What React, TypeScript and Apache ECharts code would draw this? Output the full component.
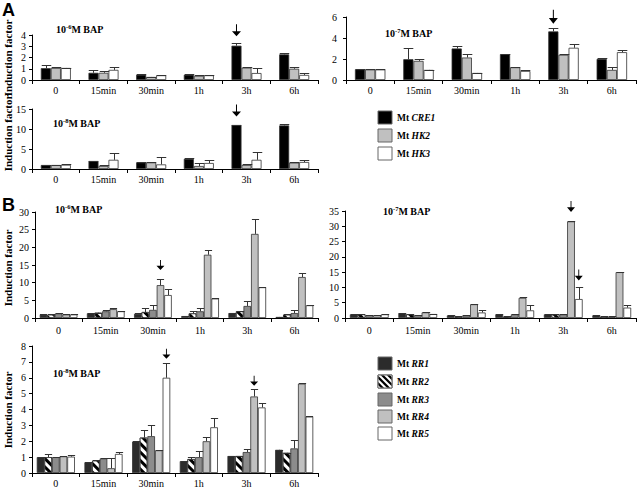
import React, { useEffect, useRef } from 'react';
import * as echarts from 'echarts';

// ---------- data ----------
const timePoints = ['0', '15min', '30min', '1h', '3h', '6h'];

// Panel A, 10^-6 M BAP
const a6CRE1 = [1.05, 0.64, 0.47, 0.47, 3.05, 2.28];
const a6CRE1Err = [0.32, 0.25, 0.05, 0.02, 0.28, 0.08];
const a6HK2 = [1.07, 0.64, 0.27, 0.37, 1.1, 1.0];
const a6HK2Err = [0.07, 0.18, 0.02, 0.06, 0.05, 0.15];
const a6HK3 = [1.07, 0.9, 0.42, 0.42, 0.62, 0.45];
const a6HK3Err = [0.03, 0.23, 0.03, 0.02, 0.48, 0.13];

// Panel A, 10^-7 M BAP
const a7CRE1 = [1.02, 1.98, 3.0, 2.46, 4.63, 2.01];
const a7CRE1Err = [0.05, 1.05, 0.2, 0.03, 0.3, 0.05];
const a7HK2 = [1.0, 1.82, 2.14, 1.21, 2.4, 0.96];
const a7HK2Err = [0.05, 0.2, 0.3, 0.02, 0.06, 0.3];
const a7HK3 = [1.0, 0.96, 0.67, 0.86, 3.07, 2.65];
const a7HK3Err = [0.02, 0.03, 0.02, 0.05, 0.35, 0.2];

// Panel A, 10^-8 M BAP
const a8CRE1 = [1.0, 2.0, 1.65, 2.55, 11.0, 10.9];
const a8CRE1Err = [0.05, 0.05, 0.05, 0.15, 0.05, 0.4];
const a8HK2 = [1.0, 0.75, 1.65, 0.75, 1.0, 1.6];
const a8HK2Err = [0.05, 0.15, 0.05, 0.85, 0.2, 0.15];
const a8HK3 = [1.05, 2.3, 1.15, 1.5, 2.3, 1.75];
const a8HK3Err = [0.2, 1.66, 1.75, 0.8, 2.07, 0.5];

// Panel B, 10^-6 M BAP
const b6RR1 = [0.95, 1.35, 1.2, 0.55, 1.4, 0.3];
const b6RR1Err = [0.05, 0.05, 0.2, 0.05, 0.05, 0.05];
const b6RR2 = [0.95, 1.5, 1.7, 1.3, 1.9, 0.95];
const b6RR2Err = [0.05, 0.05, 1.0, 0.6, 0.05, 0.1];
const b6RR3 = [1.3, 1.9, 2.3, 1.9, 3.4, 1.4];
const b6RR3Err = [0.1, 0.5, 1.5, 0.8, 1.4, 1.0];
const b6RR4 = [1.0, 2.5, 9.3, 17.9, 23.8, 11.6];
const b6RR4Err = [0.1, 0.2, 1.6, 1.3, 4.3, 1.1];
const b6RR5 = [1.0, 1.9, 6.5, 5.5, 8.7, 3.6];
const b6RR5Err = [0.1, 0.1, 1.6, 0.3, 0.2, 0.1];

// Panel B, 10^-7 M BAP
const b7RR1 = [1.2, 1.6, 0.85, 1.2, 1.2, 0.85];
const b7RR1Err = [0.05, 0.05, 0.05, 0.05, 0.05, 0.05];
const b7RR2 = [1.2, 1.2, 0.45, 0.45, 1.2, 0.45];
const b7RR2Err = [0.05, 0.05, 0.05, 0.05, 0.05, 0.05];
const b7RR3 = [0.9, 0.9, 0.85, 1.2, 1.2, 0.45];
const b7RR3Err = [0.05, 0.05, 0.05, 0.05, 0.05, 0.05];
const b7RR4 = [0.9, 1.85, 4.5, 6.6, 31.6, 15.0];
const b7RR4Err = [0.1, 0.1, 0.1, 0.2, 0.2, 0.1];
const b7RR5 = [1.2, 1.3, 1.8, 2.5, 6.2, 3.4];
const b7RR5Err = [0.1, 0.05, 0.8, 1.6, 3.9, 0.7];

// Panel B, 10^-8 M BAP
const b8RR1 = [1.0, 0.67, 1.98, 0.75, 1.07, 1.46];
const b8RR1Err = [0.02, 0.02, 0.02, 0.02, 0.02, 0.02];
const b8RR2 = [1.0, 0.78, 2.23, 0.88, 1.07, 1.27];
const b8RR2Err = [0.18, 0.03, 0.45, 0.1, 0.02, 0.02];
const b8RR3 = [1.0, 0.92, 2.32, 1.0, 1.32, 1.55];
const b8RR3Err = [0.02, 0.02, 0.7, 0.4, 0.2, 0.53];
const b8RR4 = [1.05, 0.3, 1.43, 2.0, 4.82, 5.63];
const b8RR4Err = [0.02, 0.66, 0.02, 0.25, 0.44, 0.02];
const b8RR5 = [1.03, 1.2, 6.0, 2.88, 4.13, 3.55];
const b8RR5Err = [0.1, 0.12, 0.95, 0.6, 0.31, 0.02];

// arrows: [gene index, time point, arrow tip value]
const a6Arrows: [number, string, number][] = [[0, '3h', 3.9]];
const a7Arrows: [number, string, number][] = [[0, '3h', 5.35]];
const a8Arrows: [number, string, number][] = [[0, '3h', 13.1]];
const b6Arrows: [number, string, number][] = [[3, '30min', 13.6]];
const b7Arrows: [number, string, number][] = [[3, '3h', 34.7], [4, '3h', 12.3]];
const b8Arrows: [number, string, number][] = [[4, '30min', 7.2], [3, '3h', 5.5]];

const aGeneNames = ['CRE1', 'HK2', 'HK3'];
const bGeneNames = ['RR1', 'RR2', 'RR3', 'RR4', 'RR5'];

// ---------- styles ----------
const SERIF = '"Liberation Serif", "Times New Roman", serif';
const SANS = '"Liberation Sans", Arial, sans-serif';
const aColors = ['#000000', '#c0c0c0', '#ffffff'];
const bColors = ['#2b2b2b', '#000000', '#8c8c8c', '#c0c0c0', '#ffffff'];
const bStriped = [false, true, false, false, false];
const ARROW = 'path://M4,0 L5,0 L5,7 L9,7 L4.5,12 L0,7 L4,7 Z';

type Gene = { name: string; values: number[]; errors: number[]; color: string; striped?: boolean };
type Panel = {
  left: number; top: number; width: number; height: number;
  max: number; interval: number; gap: number;
  genes: Gene[]; arrows: [number, string, number][];
  xMargin: number; yMargin: number; arrowSize: number[];
  title: string; tx: number; ty: number;
};

const mkA = (vals: number[][], errs: number[][]): Gene[] =>
  aGeneNames.map((n, i) => ({ name: n, values: vals[i], errors: errs[i], color: aColors[i] }));
const mkB = (vals: number[][], errs: number[][]): Gene[] =>
  bGeneNames.map((n, i) => ({ name: n, values: vals[i], errors: errs[i], color: bColors[i], striped: bStriped[i] }));

const panels: Panel[] = [
  { left: 32, top: 35, width: 286, height: 45, max: 4, interval: 1, gap: 0.37,
    genes: mkA([a6CRE1, a6HK2, a6HK3], [a6CRE1Err, a6HK2Err, a6HK3Err]), arrows: a6Arrows,
    xMargin: 5, yMargin: 6, arrowSize: [9, 12], title: '-6', tx: 56, ty: 29 },
  { left: 346, top: 17, width: 290, height: 63, max: 6, interval: 2, gap: 0.37,
    genes: mkA([a7CRE1, a7HK2, a7HK3], [a7CRE1Err, a7HK2Err, a7HK3Err]), arrows: a7Arrows,
    xMargin: 5, yMargin: 9, arrowSize: [9, 14], title: '-7', tx: 385, ty: 33 },
  { left: 32, top: 109, width: 286, height: 60, max: 15, interval: 5, gap: 0.37,
    genes: mkA([a8CRE1, a8HK2, a8HK3], [a8CRE1Err, a8HK2Err, a8HK3Err]), arrows: a8Arrows,
    xMargin: 5, yMargin: 6, arrowSize: [9, 12], title: '-8', tx: 53, ty: 123 },
  { left: 35, top: 212, width: 283, height: 106, max: 30, interval: 5, gap: 0.2,
    genes: mkB([b6RR1, b6RR2, b6RR3, b6RR4, b6RR5], [b6RR1Err, b6RR2Err, b6RR3Err, b6RR4Err, b6RR5Err]), arrows: b6Arrows,
    xMargin: 7, yMargin: 6, arrowSize: [8, 10], title: '-6', tx: 55, ty: 209 },
  { left: 345, top: 211, width: 291, height: 107, max: 35, interval: 5, gap: 0.2,
    genes: mkB([b7RR1, b7RR2, b7RR3, b7RR4, b7RR5], [b7RR1Err, b7RR2Err, b7RR3Err, b7RR4Err, b7RR5Err]), arrows: b7Arrows,
    xMargin: 7, yMargin: 6, arrowSize: [8, 11], title: '-7', tx: 383, ty: 211 },
  { left: 32, top: 346, width: 286, height: 127, max: 8, interval: 1, gap: 0.2,
    genes: mkB([b8RR1, b8RR2, b8RR3, b8RR4, b8RR5], [b8RR1Err, b8RR2Err, b8RR3Err, b8RR4Err, b8RR5Err]), arrows: b8Arrows,
    xMargin: 5, yMargin: 6, arrowSize: [8, 10], title: '-8', tx: 53, ty: 373 },
];

const DECAL = {
  symbol: 'rect',
  symbolSize: 1,
  color: '#ffffff',
  dashArrayX: [1, 0],
  dashArrayY: [2.2, 2.2],
  rotation: Math.PI / 4,
};

// Sutherland–Hodgman clipping of a polygon to rect [0,w]x[0,h]
function clipRect(poly: number[][], w: number, h: number): number[][] {
  const planes = [
    { inside: (p: number[]) => p[0] >= 0, inter: (a: number[], b: number[]) => { const t = (0 - a[0]) / (b[0] - a[0]); return [0, a[1] + t * (b[1] - a[1])]; } },
    { inside: (p: number[]) => p[0] <= w, inter: (a: number[], b: number[]) => { const t = (w - a[0]) / (b[0] - a[0]); return [w, a[1] + t * (b[1] - a[1])]; } },
    { inside: (p: number[]) => p[1] >= 0, inter: (a: number[], b: number[]) => { const t = (0 - a[1]) / (b[1] - a[1]); return [a[0] + t * (b[0] - a[0]), 0]; } },
    { inside: (p: number[]) => p[1] <= h, inter: (a: number[], b: number[]) => { const t = (h - a[1]) / (b[1] - a[1]); return [a[0] + t * (b[0] - a[0]), h]; } },
  ];
  let out = poly;
  for (const pl of planes) {
    const input = out;
    out = [];
    for (let i = 0; i < input.length; i++) {
      const cur = input[i];
      const prev = input[(i + input.length - 1) % input.length];
      if (pl.inside(cur)) {
        if (!pl.inside(prev)) out.push(pl.inter(prev, cur));
        out.push(cur);
      } else if (pl.inside(prev)) {
        out.push(pl.inter(prev, cur));
      }
    }
    if (!out.length) break;
  }
  return out;
}

function swatch(x: number, y: number, color: string, striped: boolean): any[] {
  const w = 14, h = 13;
  const els: any[] = [
    { type: 'rect', shape: { x, y, width: w, height: h }, style: { fill: color, stroke: '#666', lineWidth: 1 }, z: 10 },
  ];
  if (striped) {
    const period = 6.2, ww = 3;
    for (let c = -h - period; c < w + period; c += period) {
      const quad = [[c - 5, -5], [c + h + 5, h + 5], [c + ww + h + 5, h + 5], [c + ww - 5, -5]];
      const clipped = clipRect(quad, w, h);
      if (clipped.length >= 3) {
        els.push({ type: 'polygon', shape: { points: clipped.map((p) => [p[0] + x, p[1] + y]) }, style: { fill: '#fff' }, z: 11 });
      }
    }
    els.push({ type: 'rect', shape: { x, y, width: w, height: h }, style: { fill: 'none', stroke: '#666', lineWidth: 1 }, z: 12 });
  }
  return els;
}

function buildOption() {
  const series: any[] = [];
  panels.forEach((p, pi) => {
    const n = p.genes.length;
    p.genes.forEach((g, k) => {
      const arrows = p.arrows.filter((a) => a[0] === k);
      const s: any = {
        type: 'bar', name: g.name, xAxisIndex: pi, yAxisIndex: pi, data: g.values,
        barGap: '0%', barCategoryGap: p.gap * 100 + '%', silent: true,
        itemStyle: { color: g.color, borderColor: '#333', borderWidth: 0.8, ...(g.striped ? { decal: DECAL } : {}) },
      };
      if (arrows.length) {
        s.markPoint = {
          silent: true, symbol: ARROW, symbolSize: p.arrowSize, symbolOffset: [0, '-50%'],
          itemStyle: { color: '#000' }, label: { show: false },
          data: arrows.map((a) => ({ coord: [timePoints.indexOf(a[1]), a[2]] })),
        };
      }
      series.push(s);
    });
    p.genes.forEach((g, k) => {
      series.push({
        type: 'custom', xAxisIndex: pi, yAxisIndex: pi, silent: true, z: 3,
        encode: { x: 0, y: 1 },
        data: g.values.map((v, j) => [j, v, v + g.errors[j]]),
        renderItem: (params: any, api: any) => {
          const j = api.value(0);
          const base = api.coord([j, api.value(1)]);
          const top = api.coord([j, api.value(2)]);
          const band = api.size([1, 0])[0];
          const bw = (band * (1 - p.gap)) / n;
          const x = Math.round(base[0] + (k - (n - 1) / 2) * bw) + 0.5;
          const cap = bw * 0.95;
          const yTop = Math.round(top[1]) + 0.5;
          return {
            type: 'group',
            children: [
              { type: 'line', shape: { x1: x, y1: base[1], x2: x, y2: yTop }, style: { stroke: '#333', lineWidth: 1 } },
              { type: 'line', shape: { x1: x - cap / 2, y1: yTop, x2: x + cap / 2, y2: yTop }, style: { stroke: '#333', lineWidth: 1 } },
            ],
          };
        },
      });
    });
  });

  const graphic: any[] = [];
  graphic.push({ type: 'text', x: 2, y: 1, style: { text: 'A', font: `bold 18px ${SANS}`, fill: '#000' } });
  graphic.push({ type: 'text', x: 2, y: 196, style: { text: 'B', font: `bold 18px ${SANS}`, fill: '#000' } });
  const yNames = [[8, 58], [8, 133], [8, 268], [8, 410]];
  yNames.forEach(([x, y]) =>
    graphic.push({
      type: 'text', x, y, rotation: Math.PI / 2,
      style: { text: 'Induction factor', font: `bold 11px ${SERIF}`, fill: '#000', align: 'center', verticalAlign: 'middle' },
    })
  );
  panels.forEach((p) =>
    graphic.push({
      type: 'text', x: p.tx, y: p.ty,
      style: {
        text: `{b|10}{s|${p.title}}{b|M BAP}`, verticalAlign: 'middle',
        rich: {
          b: { fontFamily: SERIF, fontWeight: 'bold', fontSize: 10, fill: '#000', lineHeight: 12 },
          s: { fontFamily: SERIF, fontWeight: 'bold', fontSize: 6.5, fill: '#000', verticalAlign: 'top', lineHeight: 7 },
        },
      },
    })
  );
  const legendText = (name: string) => ({
    text: `{r|Mt }{i|${name}}`, verticalAlign: 'middle',
    rich: {
      r: { fontFamily: SERIF, fontWeight: 'bold', fontSize: 9.5, fill: '#000' },
      i: { fontFamily: SERIF, fontWeight: 'bold', fontStyle: 'italic', fontSize: 9.5, fill: '#000' },
    },
  });
  const aLegY = [111, 129, 147];
  aGeneNames.forEach((name, i) => {
    graphic.push(...swatch(378, aLegY[i], aColors[i], false));
    graphic.push({ type: 'text', x: 397, y: aLegY[i] + 6.5, style: legendText(name) });
  });
  const bLegY = [357, 375, 393, 410, 427];
  bGeneNames.forEach((name, i) => {
    graphic.push(...swatch(378, bLegY[i], bColors[i], bStriped[i]));
    graphic.push({ type: 'text', x: 397, y: bLegY[i] + 6.5, style: legendText(name) });
  });

  return {
    animation: false,
    backgroundColor: '#ffffff',
    grid: panels.map((p) => ({ left: p.left, top: p.top, width: p.width, height: p.height, containLabel: false, outerBoundsMode: 'none' })),
    xAxis: panels.map((p, i) => ({
      type: 'category', gridIndex: i, data: timePoints,
      axisLine: { lineStyle: { color: '#000', width: 1 } },
      axisTick: { show: true, length: 4, lineStyle: { color: '#000' } },
      axisLabel: { color: '#000', fontFamily: SERIF, fontSize: 10, margin: p.xMargin, interval: 0, hideOverlap: false },
      splitLine: { show: false },
    })),
    yAxis: panels.map((p, i) => ({
      type: 'value', gridIndex: i, min: 0, max: p.max, interval: p.interval,
      axisLine: { show: true, lineStyle: { color: '#000', width: 1 } },
      axisTick: { show: true, length: 3, lineStyle: { color: '#000' } },
      axisLabel: { show: true, color: '#000', fontFamily: SERIF, fontSize: 10, margin: p.yMargin, hideOverlap: false, showMinLabel: true, showMaxLabel: true },
      splitLine: { show: false },
    })),
    series,
    graphic,
  };
}

export default function App() {
  const ref = useRef<HTMLDivElement>(null);
  useEffect(() => {
    if (!ref.current) return;
    const chart = echarts.init(ref.current, undefined, { renderer: 'svg' });
    chart.setOption(buildOption() as any);
    return () => chart.dispose();
  }, []);
  return <div ref={ref} style={{ position: 'fixed', left: 0, top: 0, width: 638, height: 488, background: '#fff' }} />;
}
